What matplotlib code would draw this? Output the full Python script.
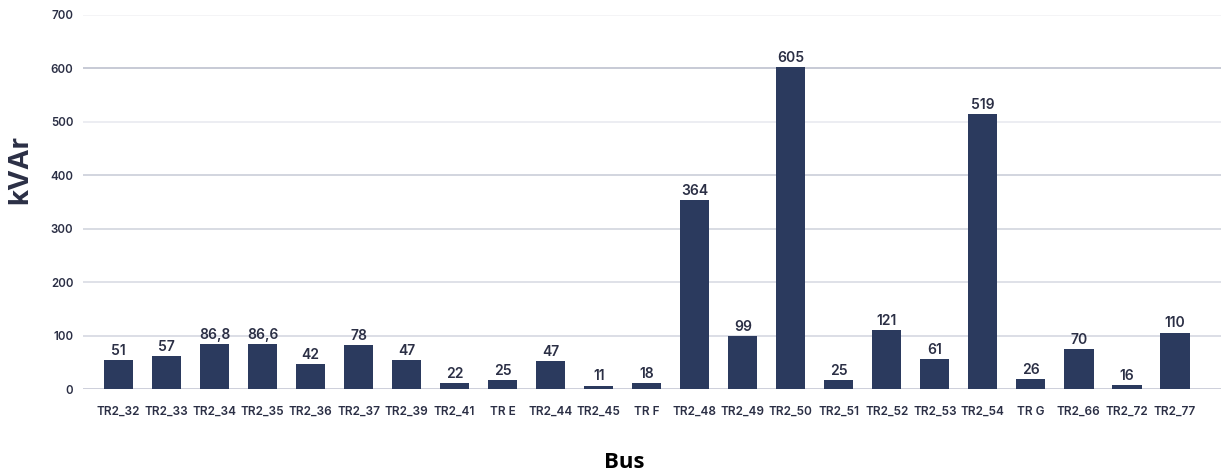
import matplotlib
matplotlib.use("Agg")
import matplotlib.pyplot as plt
import numpy as np

buses = ["TR2_32", "TR2_33", "TR2_34", "TR2_35", "TR2_36", "TR2_37", "TR2_39", "TR2_41",
         "TR E", "TR2_44", "TR2_45", "TR F", "TR2_48", "TR2_49", "TR2_50", "TR2_51",
         "TR2_52", "TR2_53", "TR2_54", "TR G", "TR2_66", "TR2_72", "TR2_77"]
# bar heights as drawn in the picture
heights = [54, 63, 85, 84, 48, 82, 54, 12, 17, 53, 7, 12, 353, 99, 603, 17,
           110, 57, 514, 19, 75, 8, 106]
# value labels as printed
value_labels = ["51", "57", "86,8", "86,6", "42", "78", "47", "22", "25", "47", "11", "18",
                "364", "99", "605", "25", "121", "61", "519", "26", "70", "16", "110"]
yticks = [0, 100, 200, 300, 400, 500, 600, 700]

W, H = 1221, 475
fig = plt.figure(figsize=(W / 100, H / 100), dpi=100)
ax = fig.add_axes([83 / W, 1 - 389.3 / H, 1 - 83 / W, (389.3 - 14.7) / H])

bar_color = "#2b3a5e"
text_color = "#2b2f45"
x = np.arange(len(buses))
ax.bar(x, heights, width=0.61, color=bar_color, zorder=3)

grid_colors = {0: "#c9ccd8", 100: "#d9dbe4", 200: "#dcdee6", 300: "#d6d9e1",
               400: "#cfd2dc", 500: "#ebecf1", 600: "#c3c6d2", 700: "#f3f3f6"}
for yv in yticks:
    ax.axhline(yv, color=grid_colors[yv], lw=1.3, zorder=1)

for xi, h, lab in zip(x, heights, value_labels):
    ax.annotate(lab, (xi, h), xytext=(0, 1.5), textcoords="offset points",
                ha="center", va="bottom", fontsize=10, fontweight="semibold",
                color=text_color, family="Inter")

ax.set_xlim(-0.74, len(buses) - 1 + 0.96)
ax.set_ylim(0, 700)
ax.set_yticks(yticks)
ax.set_yticklabels([str(v) for v in yticks], fontsize=8.3, fontweight="semibold",
                   color=text_color, family="Inter")
ax.set_xticks(x)
ax.set_xticklabels(buses, fontsize=8.5, fontweight="semibold", color=text_color, family="Inter")
ax.tick_params(axis="both", length=0)
ax.tick_params(axis="y", pad=7)
ax.tick_params(axis="x", pad=12)
for s in ax.spines.values():
    s.set_visible(False)

fig.text(20 / W, 1 - 170 / H, "kVAr", rotation=90, ha="center", va="center",
         fontsize=20, fontweight="bold", color=text_color, family="Inter")
fig.text(624 / W, 1 - 462 / H, "Bus", ha="center", va="center",
         fontsize=16, fontweight="bold", color="black", family="Open Sans")

fig.savefig("out.png", dpi=100)
